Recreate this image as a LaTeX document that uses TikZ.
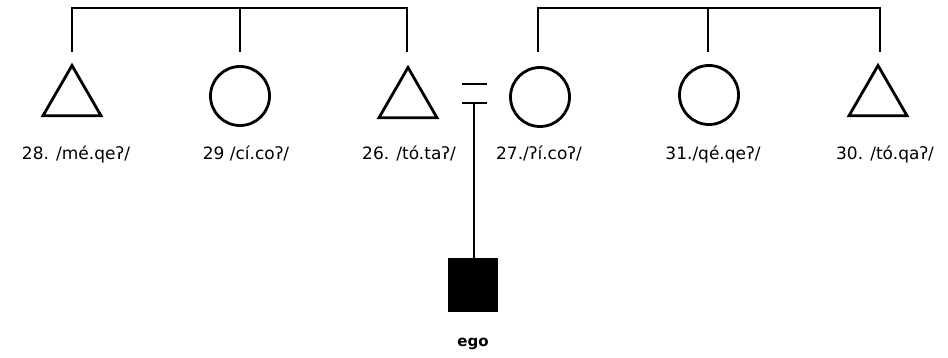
\documentclass[tikz,border=0pt]{standalone}
\usepackage{fontspec}
\setmainfont{DejaVu Sans}
\usetikzlibrary{shapes.geometric}
\begin{document}
\begin{tikzpicture}[x=1pt,y=-1pt,
  line width=2.8pt,
  male/.style={draw,regular polygon,regular polygon sides=3,minimum size=67pt,inner sep=0pt},
  female/.style={draw,circle,minimum size=59pt,inner sep=0pt},
  egobox/.style={draw,fill=black,minimum width=48pt,minimum height=51pt,inner sep=0pt},
  lbl/.style={font=\fontsize{17}{19}\selectfont,inner sep=0pt,anchor=base},
  link/.style={line width=2.6pt}]
\useasboundingbox (0,0) rectangle (948,358);
% persons
\node[male] (p28) at (72,99) {};
\node[female] (p29) at (240,96) {};
\node[male] (p26) at (408,101) {};
\node[female] (p27) at (540,97) {};
\node[female] (p31) at (709,95) {};
\node[male] (p30) at (878,99) {};
\node[egobox] (ego) at (473,285) {};
% labels
\node[lbl] (l28) at (76,160) {28. /mé.qeʔ/};
\node[lbl] (l29) at (246,160) {29 /cí.coʔ/};
\node[lbl] (l26) at (409,160) {26. /tó.taʔ/};
\node[lbl] (l27) at (539,160) {27./ʔí.coʔ/};
\node[lbl] (l31) at (713,160) {31./qé.qeʔ/};
\node[lbl] (l30) at (885,160) {30. /tó.qaʔ/};
\node[lbl,font=\fontsize{15}{17}\selectfont\bfseries] (lego) at (473,346) {ego};
% sibling brackets
\coordinate (s28) at (72,52);
\coordinate (s29) at (240,52);
\coordinate (s26) at (407,52);
\coordinate (lt) at (240,8);
\coordinate (s27) at (538,52);
\coordinate (s31) at (708,52);
\coordinate (s30) at (880,52);
\coordinate (rt) at (708,8);
\draw[link] (s28) |- (lt) -| (s26);
\draw[link] (s29) -- (lt);
\draw[link] (s27) |- (rt) -| (s30);
\draw[link] (s31) -- (rt);
% marriage
\coordinate (e1a) at (462,84);
\coordinate (e1b) at (487,84);
\coordinate (e2a) at (462,103);
\coordinate (e2b) at (487,103);
\coordinate (e2m) at (474,103);
\draw[link] (e1a) -- (e1b);
\draw[link] (e2a) -- (e2b);
\draw[link] (e2m) -- (ego.north -| e2m);
\end{tikzpicture}
\end{document}
